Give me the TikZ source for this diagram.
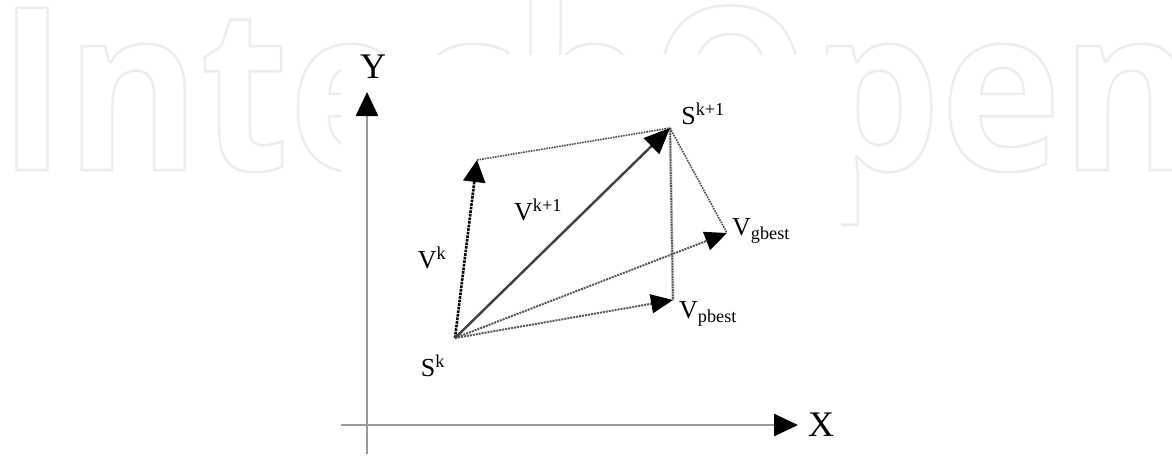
\documentclass[tikz,border=0pt]{standalone}
\usepackage{fontspec}
\usepackage{graphicx}
\setmainfont{Liberation Serif}
\newfontfamily\wmfont{Open Sans}
\usetikzlibrary{arrows.meta}
\definecolor{wmgray}{HTML}{ECECEC}
\definecolor{linegray}{HTML}{555555}
\tikzset{
  axis/.style={line width=2.6pt, draw=gray!80, -{Triangle[length=24pt,width=22pt,color=black]}},
  vec/.style={line width=2pt, draw=linegray, densely dotted, -{Triangle[length=22pt,width=19pt,color=black]}},
  vecdark/.style={line width=2.6pt, draw=black, densely dotted, -{Triangle[length=22pt,width=22pt,color=black]}},
  vecsolid/.style={line width=2.4pt, draw=black!75, -{Triangle[length=26pt,width=22pt,color=black]}},
  guide/.style={line width=1.6pt, draw=black!70, densely dotted},
  lbl/.style={inner sep=0pt, font=\fontsize{26}{26}\selectfont},
  axlbl/.style={inner sep=0pt, font=\fontsize{36}{36}\selectfont}
}
\begin{document}
\begin{tikzpicture}[x=1pt,y=-1pt]
\useasboundingbox (0,0) rectangle (1172,456);
% watermark
\node[anchor=base west, inner sep=0pt, text=wmgray] (wm) at (-2,170)
  {\scalebox{0.9}[1]{\wmfont\bfseries\fontsize{227}{227}\selectfont\special{pdf:literal direct 1 Tr 2.5 w}IntechOpen\special{pdf:literal direct 0 Tr}}};
\fill[white] (341,55) rectangle (841,456);
% coordinates
\coordinate (ybot) at (367,454);
\coordinate (ytop) at (367,92);
\coordinate (xleft) at (341,425);
\coordinate (xright) at (798,425);
\coordinate (sk) at (455,338);
\coordinate (vk) at (477,160);
\coordinate (sk1) at (670,128);
\coordinate (vg) at (727,233);
\coordinate (vp) at (673,300);
% axes
\draw[axis] (ybot) -- (ytop);
\draw[axis] (xleft) -- (xright);
\node[axlbl] (ylab) at (373,67) {Y};
\node[axlbl] (xlab) at (821,425) {X};
% guides
\draw[guide] (vk) -- (sk1);
\draw[line width=3pt, draw=black!20] (sk1) -- (vp);
\draw[guide] (sk1) -- (vp);
\draw[guide] (sk1) -- (vg);
% vectors
\draw[vecdark] (sk) -- (vk);
\draw[vec] (sk) -- (vg);
\draw[vec] (sk) -- (vp);
\draw[vecsolid] (sk) -- (sk1);
% labels
\node[lbl] (lsk) at (433,366) {S\textsuperscript{k}};
\node[lbl] (lvk) at (432,258) {V\textsuperscript{k}};
\node[lbl] (lvk1) at (538,210) {V\textsuperscript{k+1}};
\node[lbl] (lsk1) at (703,114) {S\textsuperscript{k+1}};
\node[lbl, anchor=west] (lvg) at (732,231) {V\textsubscript{gbest}};
\node[lbl, anchor=west] (lvp) at (679,314) {V\textsubscript{pbest}};
\end{tikzpicture}
\end{document}
